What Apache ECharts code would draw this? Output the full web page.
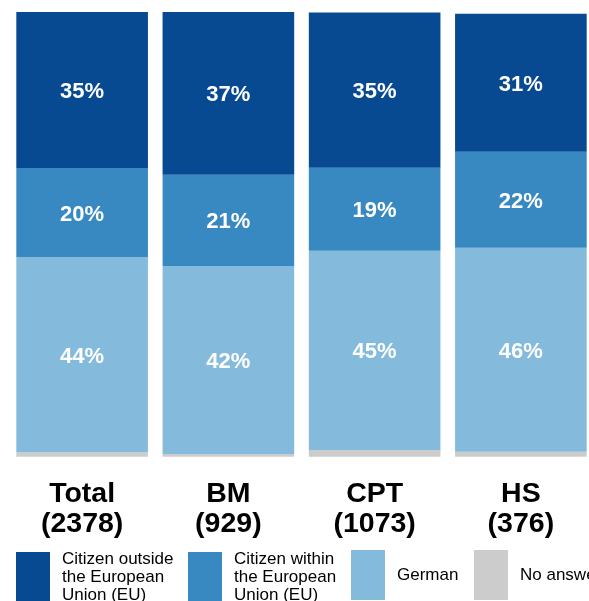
<!DOCTYPE html>
<html>
<head>
<meta charset="utf-8">
<script src="https://cdn.jsdelivr.net/npm/echarts@6/dist/echarts.min.js"></script>
<style>html,body{margin:0;padding:0;background:#fff;overflow:hidden;width:589px;height:601px}#c{width:600px;height:601px}</style>
</head>
<body>
<div id="c"></div>
<script>
const categories = ['Total\n(2378)', 'BM\n(929)', 'CPT\n(1073)', 'HS\n(376)'];
const seriesNames = ['Citizen outside\nthe European\nUnion (EU)', 'Citizen within\nthe European\nUnion (EU)', 'German', 'No answer'];
const outsideEU = [35.1, 36.6, 34.9, 31.0];
const withinEU = [20.0, 20.5, 18.7, 21.6];
const german = [43.9, 42.3, 44.8, 45.9];
const noAnswer = [1.0, 0.6, 1.5, 1.1];
const colors = ['#084a92', '#3888c1', '#84bbdc', '#cccccc'];

const chart = echarts.init(document.getElementById('c'));
const font = '"Liberation Sans", Arial, sans-serif';
const lbl = {
  show: true, position: 'inside', offset: [0, 2], color: '#fff', fontSize: 22, fontWeight: 'bold', fontFamily: font,
  formatter: p => Math.round(p.value) + '%'
};
function mk(name, data, color, withLabel) {
  return { name, type: 'bar', stack: 's', data, barCategoryGap: '10%',
    itemStyle: { color }, label: withLabel ? lbl : { show: false }, emphasis: { disabled: true } };
}
const legendLefts = [16, 188, 351, 474];
const legends = seriesNames.map((n, i) => ({
  data: [n], left: legendLefts[i], top: 550, padding: 0, itemWidth: 34, itemHeight: 50,
  icon: 'rect', selectedMode: false,
  textStyle: { fontSize: 17, lineHeight: 18, color: '#000', fontFamily: font, padding: [0, 0, 0, 7] }
}));
chart.setOption({
  animation: false,
  color: colors,
  grid: { left: 9, width: 585, top: 12, bottom: 144.3, containLabel: false },
  legend: legends,
  xAxis: { type: 'category', data: categories, axisLine: { show: false }, axisTick: { show: false },
    axisLabel: { margin: 22, fontSize: 28.5, lineHeight: 30, fontWeight: 'bold', color: '#000', fontFamily: font, interval: 0 } },
  yAxis: { type: 'value', min: 0, max: 100, show: false, splitLine: { show: false } },
  series: [
    mk(seriesNames[3], noAnswer, colors[3], false),
    mk(seriesNames[2], german, colors[2], true),
    mk(seriesNames[1], withinEU, colors[1], true),
    mk(seriesNames[0], outsideEU, colors[0], true)
  ]
});
</script>
</body>
</html>
